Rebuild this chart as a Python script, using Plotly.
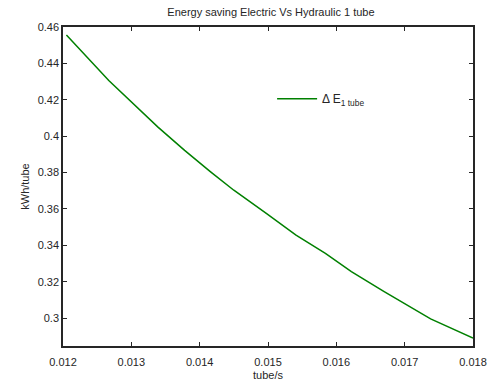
import plotly.graph_objects as go

x_vals = [0.01205, 0.01267, 0.01339, 0.01378, 0.01416, 0.01450, 0.01498, 0.01541,
          0.01584, 0.01622, 0.01670, 0.01738, 0.01800]
y_vals = [0.4556, 0.4306, 0.4050, 0.3922, 0.3804, 0.3703, 0.3575, 0.3456,
          0.3356, 0.3256, 0.3146, 0.2996, 0.2890]
x_ticks = [0.012, 0.013, 0.014, 0.015, 0.016, 0.017, 0.018]
x_tick_labels = ["0.012", "0.013", "0.014", "0.015", "0.016", "0.017", "0.018"]
y_ticks = [0.3, 0.32, 0.34, 0.36, 0.38, 0.4, 0.42, 0.44, 0.46]
y_tick_labels = ["0.3", "0.32", "0.34", "0.36", "0.38", "0.4", "0.42", "0.44", "0.46"]

FONT = "Liberation Sans, Arial"
fig = go.Figure()
fig.add_trace(go.Scatter(x=x_vals, y=y_vals, mode="lines",
                         line=dict(color="rgb(0,128,0)", width=1.5),
                         name="Δ E<sub>1 tube</sub>"))

axis_common = dict(showgrid=False, zeroline=False, showline=True, linecolor="#262626",
                   linewidth=1.5, mirror="ticks", ticks="inside", ticklen=4,
                   tickcolor="#262626", tickfont=dict(family=FONT, size=11, color="#262626"))

fig.update_layout(
    width=499, height=392,
    margin=dict(l=63, r=19, t=27, b=44),
    paper_bgcolor="white", plot_bgcolor="white",
    title=dict(text="Energy saving Electric Vs Hydraulic 1 tube", x=0.543, xanchor="center",
               y=0.97, yanchor="middle",
               font=dict(family=FONT, size=11, color="#262626")),
    xaxis=dict(range=[0.012, 0.018], tickvals=x_ticks, ticktext=x_tick_labels,
               ticklabelstandoff=5,
               title=dict(text="tube/s", standoff=4,
                          font=dict(family=FONT, size=11, color="#262626")),
               **axis_common),
    yaxis=dict(range=[0.2847, 0.46], tickvals=y_ticks, ticktext=y_tick_labels,
               title=dict(text="kWh/tube", standoff=6,
                          font=dict(family=FONT, size=11, color="#262626")),
               **axis_common),
    showlegend=True,
    legend=dict(x=0.51, y=0.775, xanchor="left", yanchor="middle", bgcolor="rgba(0,0,0,0)",
                font=dict(family=FONT, size=12, color="#262626"),
                itemwidth=40),
)

fig.write_html("out.html")
